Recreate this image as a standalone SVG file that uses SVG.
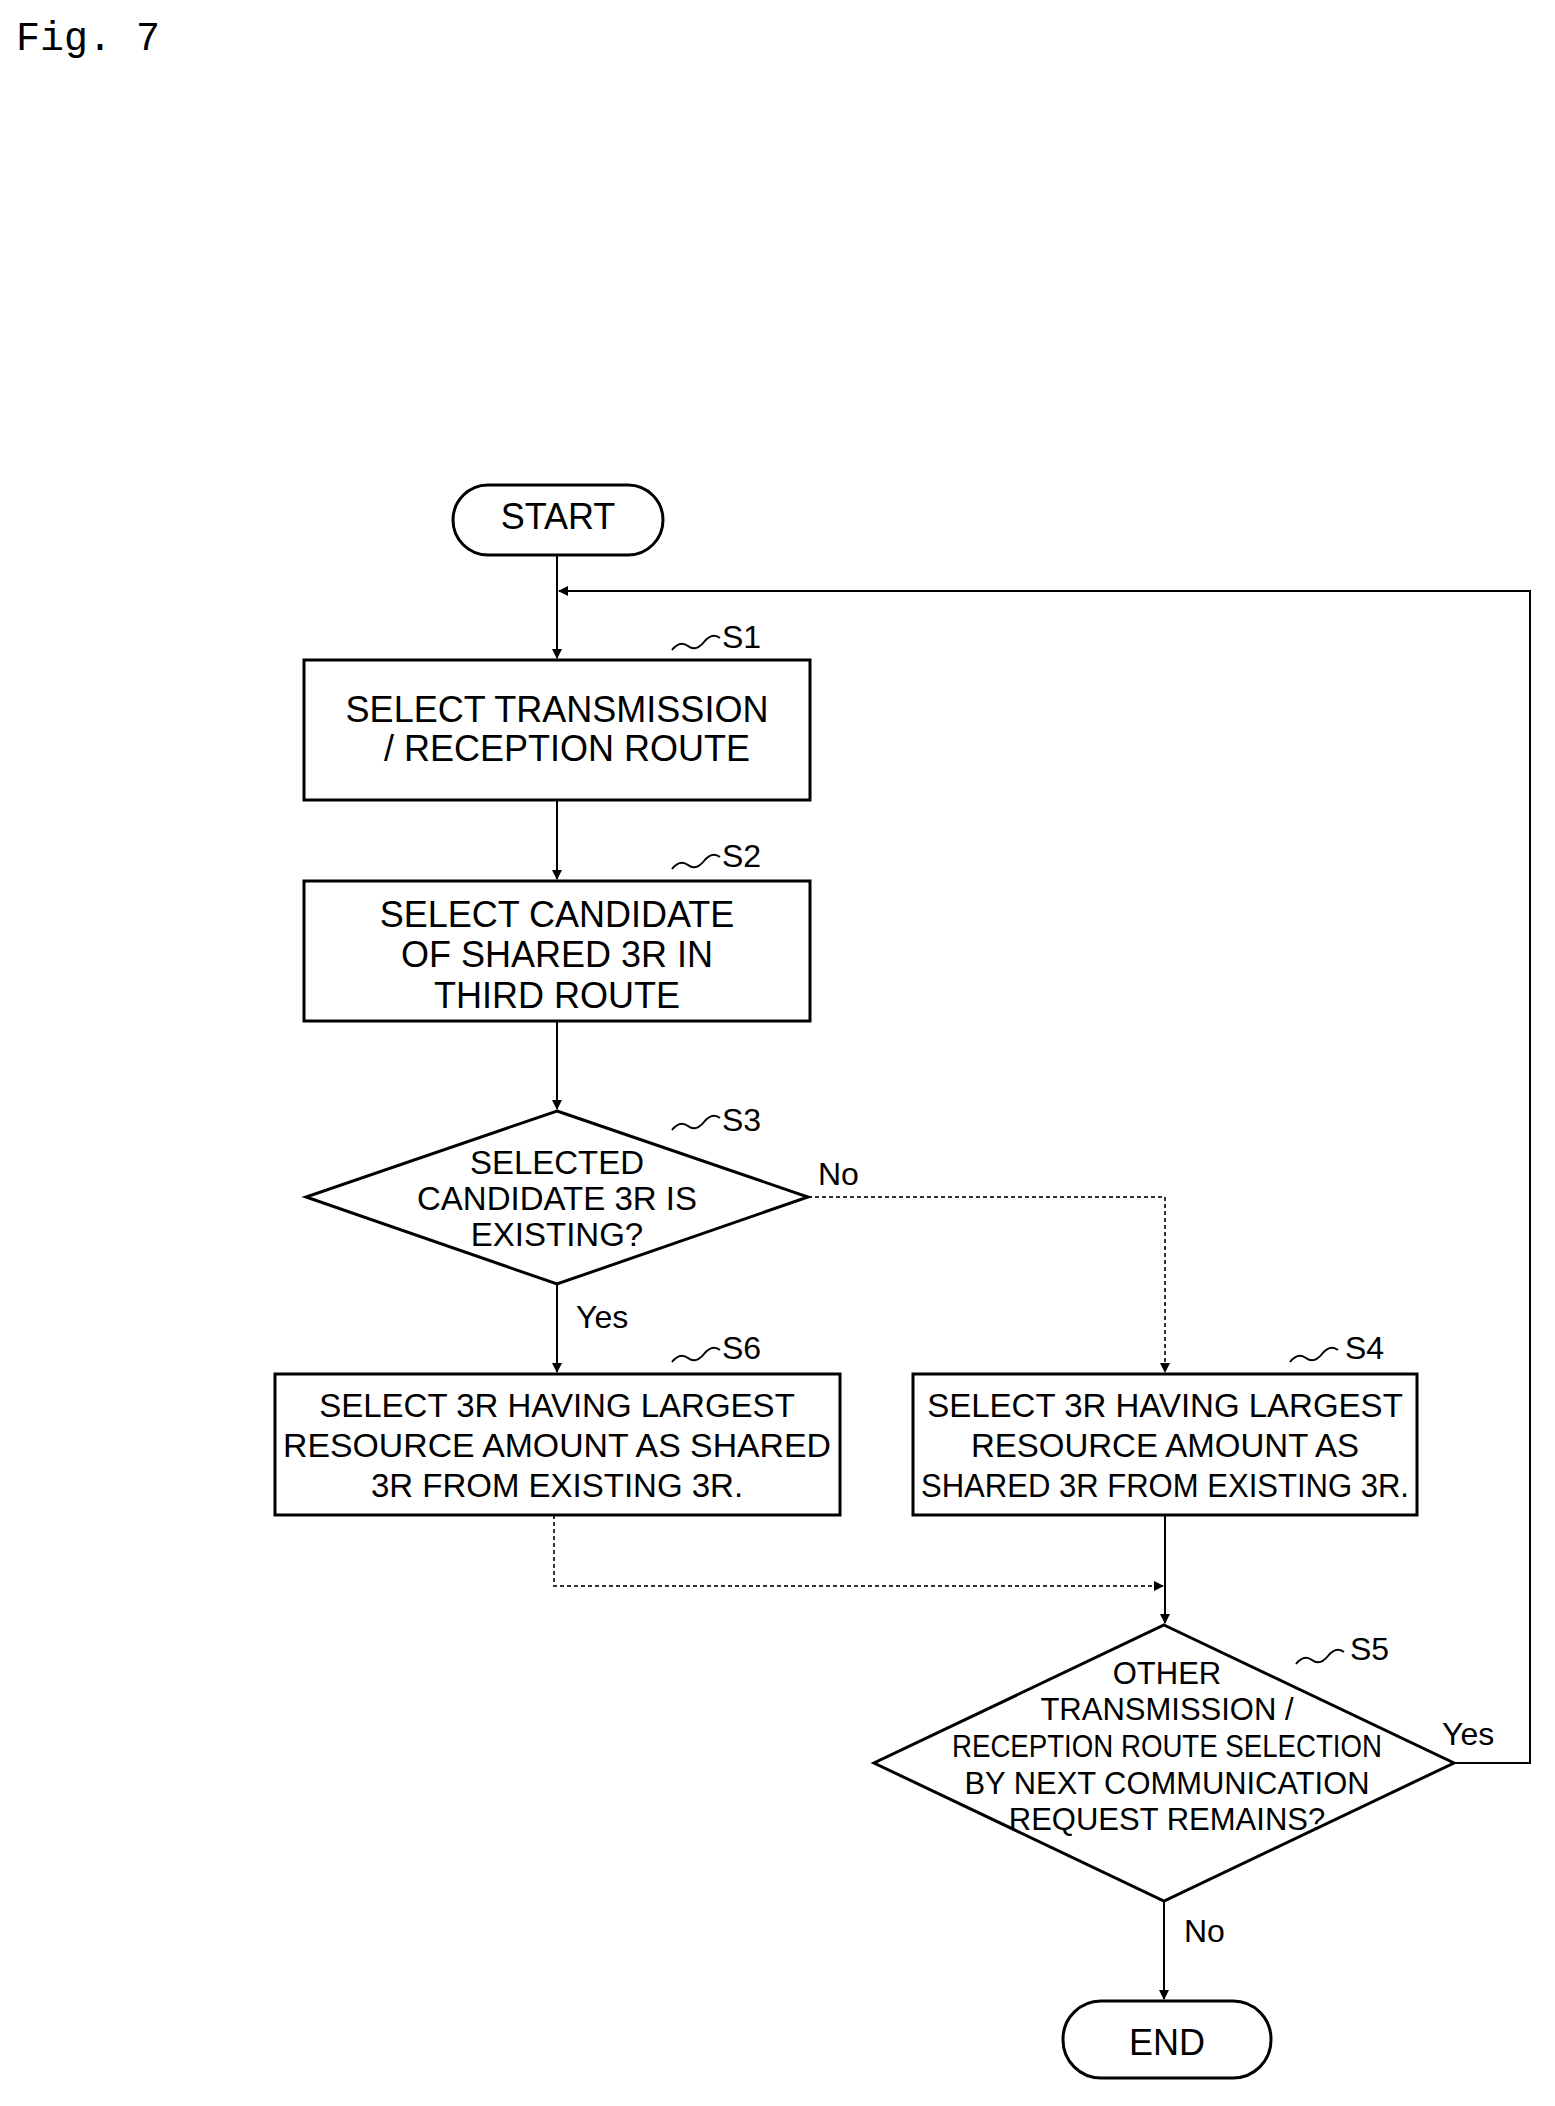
<svg xmlns="http://www.w3.org/2000/svg" width="1555" height="2106" viewBox="0 0 1555 2106">
<style>
.s{fill:#fff;stroke:#000;stroke-width:3}
.t{font-family:"Liberation Sans",Arial,sans-serif;font-size:36px;text-anchor:middle;fill:#000}
.c{font-family:"Liberation Sans",Arial,sans-serif;font-size:33px;text-anchor:middle;fill:#000}
.f{font-family:"Liberation Sans",Arial,sans-serif;font-size:31px;text-anchor:middle;fill:#000}
.l{font-family:"Liberation Sans",Arial,sans-serif;font-size:32px;fill:#000}
.w{fill:none;stroke:#000;stroke-width:2}
.e{fill:none;stroke:#000;stroke-width:2}
.d{fill:none;stroke:#333;stroke-width:2;stroke-dasharray:4 3}
</style>
<defs><marker id="a" markerWidth="10" markerHeight="10" refX="9" refY="5" orient="auto" markerUnits="userSpaceOnUse"><path d="M0,0 L10,5 L0,10 Z" fill="#000"/></marker></defs>
<rect width="1555" height="2106" fill="#fff"/>
<text x="16" y="50" style="font-family:'Liberation Mono',monospace;font-size:40px">Fig. 7</text>
<g id="connectors">
<path class="e" d="M557,555 V658" marker-end="url(#a)"/>
<path class="e" d="M557,800 V879" marker-end="url(#a)"/>
<path class="e" d="M557,1021 V1109" marker-end="url(#a)"/>
<path class="e" d="M557,1284 V1372" marker-end="url(#a)"/>
<path class="d" d="M808,1197 H1165 V1372" marker-end="url(#a)"/>
<path class="d" d="M554,1515 V1586 H1163" marker-end="url(#a)"/>
<path class="e" d="M1165,1515 V1623" marker-end="url(#a)"/>
<path class="e" d="M1454,1763 H1530 V591 H559" marker-end="url(#a)"/>
<path class="e" d="M1164,1901 V1999" marker-end="url(#a)"/>
<text class="l" x="818" y="1185">No</text>
<text class="l" x="576" y="1328">Yes</text>
<text class="l" x="1442" y="1745">Yes</text>
<text class="l" x="1184" y="1942">No</text>
</g>
<g id="start"><rect class="s" x="453" y="485" width="210" height="70" rx="35"/><text class="t" x="558" y="529">START</text></g>
<g id="s1"><rect class="s" x="304" y="660" width="506" height="140"/><text class="t" x="557" y="722">SELECT TRANSMISSION</text><text class="t" x="567" y="761">/ RECEPTION ROUTE</text>
<path class="w" d="M672,650 q8,-10 16,-4 t16,-4 t16,-4"/><text class="l" x="722" y="648">S1</text></g>
<g id="s2"><rect class="s" x="304" y="881" width="506" height="140"/><text class="t" x="557" y="927">SELECT CANDIDATE</text><text class="t" x="557" y="967">OF SHARED 3R IN</text><text class="t" x="557" y="1008">THIRD ROUTE</text>
<path class="w" d="M672,869 q8,-10 16,-4 t16,-4 t16,-4"/><text class="l" x="722" y="867">S2</text></g>
<g id="s3"><polygon class="s" points="557,1111 808,1197 557,1284 306,1197"/><text class="c" x="557" y="1174">SELECTED</text><text class="c" x="557" y="1210">CANDIDATE 3R IS</text><text class="c" x="557" y="1246">EXISTING?</text>
<path class="w" d="M672,1130 q8,-10 16,-4 t16,-4 t16,-4"/><text class="l" x="722" y="1131">S3</text></g>
<g id="s6"><rect class="s" x="275" y="1374" width="565" height="141"/><text class="c" x="557" y="1417">SELECT 3R HAVING LARGEST</text><text class="c" x="557" y="1457" textLength="548" lengthAdjust="spacingAndGlyphs">RESOURCE AMOUNT AS SHARED</text><text class="c" x="557" y="1497">3R FROM EXISTING 3R.</text>
<path class="w" d="M672,1362 q8,-10 16,-4 t16,-4 t16,-4"/><text class="l" x="722" y="1359">S6</text></g>
<g id="s4"><rect class="s" x="913" y="1374" width="504" height="141"/><text class="c" x="1165" y="1417">SELECT 3R HAVING LARGEST</text><text class="c" x="1165" y="1457">RESOURCE AMOUNT AS</text><text class="c" x="1165" y="1497" textLength="488" lengthAdjust="spacingAndGlyphs">SHARED 3R FROM EXISTING 3R.</text>
<path class="w" d="M1290,1362 q8,-10 16,-4 t16,-4 t16,-4"/><text class="l" x="1345" y="1359">S4</text></g>
<g id="s5"><polygon class="s" points="1164,1625 1454,1763 1164,1901 874,1763"/><text class="f" x="1167" y="1684">OTHER</text><text class="f" x="1167" y="1720">TRANSMISSION /</text><text class="f" x="1167" y="1757" textLength="430" lengthAdjust="spacingAndGlyphs">RECEPTION ROUTE SELECTION</text><text class="f" x="1167" y="1794" textLength="405" lengthAdjust="spacingAndGlyphs">BY NEXT COMMUNICATION</text><text class="f" x="1167" y="1830">REQUEST REMAINS?</text>
<path class="w" d="M1296,1664 q8,-10 16,-4 t16,-4 t16,-4"/><text class="l" x="1350" y="1660">S5</text></g>
<g id="end"><rect class="s" x="1063" y="2001" width="208" height="77" rx="38"/><text class="t" x="1167" y="2055">END</text></g>
</svg>
